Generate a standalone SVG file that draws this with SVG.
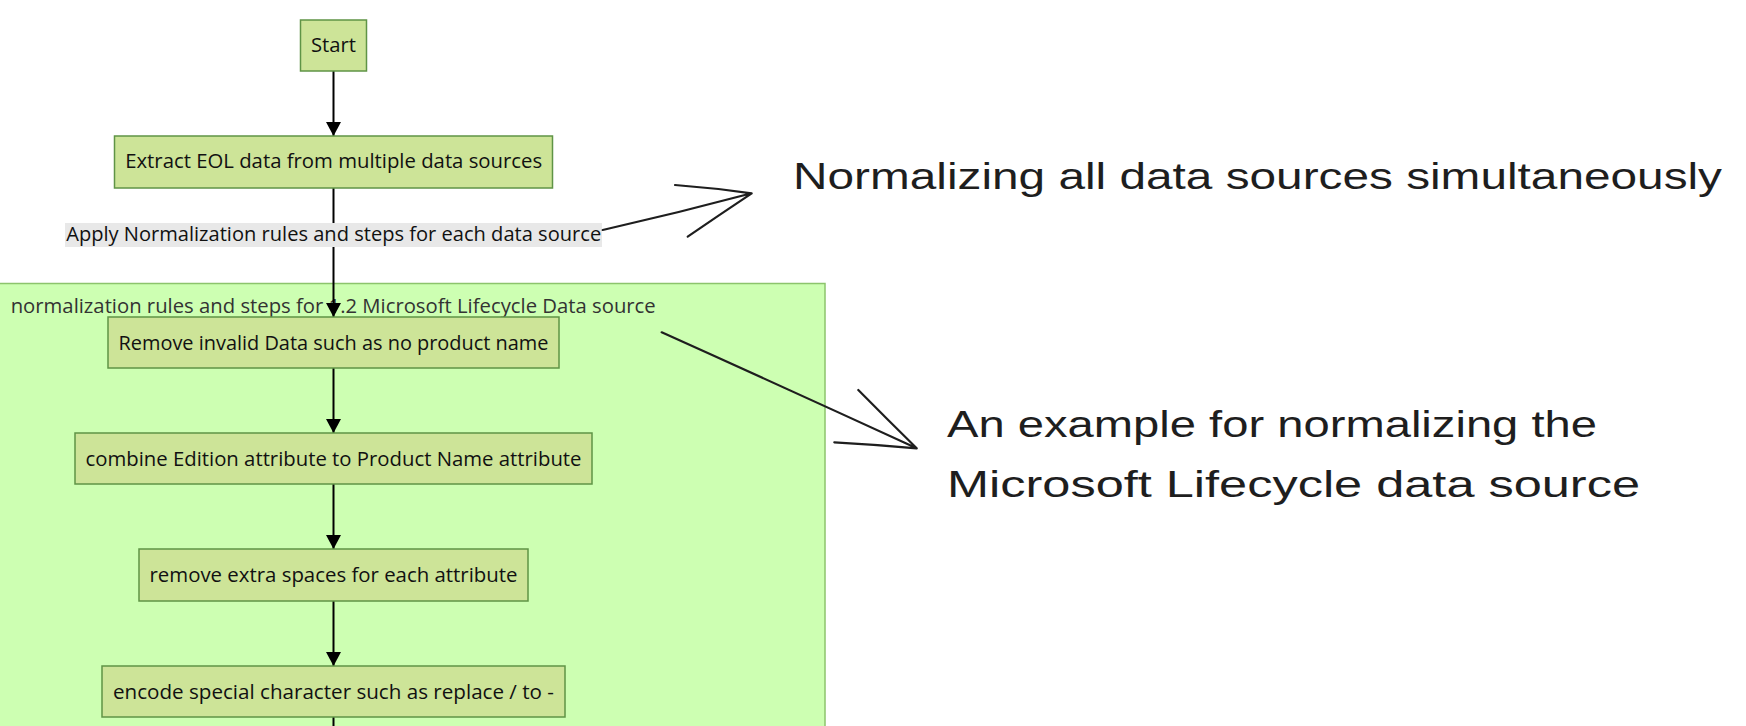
<svg xmlns="http://www.w3.org/2000/svg" width="1746" height="726" viewBox="0 0 1746 726">
<style>
.node rect{fill:#cde498;stroke:#5f9446;stroke-width:1.5}
.ntext{font-family:"Open Sans","Noto Sans",sans-serif;font-size:20px;fill:#111111;text-anchor:middle}
.cluster rect{fill:#cdffb2;stroke:#8cc46c;stroke-width:1.5}
.ctitle{font-family:"Open Sans","Noto Sans",sans-serif;font-size:20px;fill:#333333}
.edge{stroke:#000;stroke-width:2;fill:none}
.lbl-bg{fill:#e8e8e8}
.ann{stroke:#1e1e1e;stroke-width:2.2;fill:none;stroke-linecap:round;stroke-linejoin:round}
.atext{font-family:"Liberation Sans","Open Sans",sans-serif;fill:#1e1e1e}
</style>
<defs>
<marker id="arrow" viewBox="0 0 14 15" refX="14" refY="7.5" markerWidth="14" markerHeight="15" markerUnits="userSpaceOnUse" orient="auto">
<path d="M0,0 L14,7.5 L0,15 z" fill="#000"/>
</marker>
</defs>
<rect x="0" y="0" width="1746" height="726" fill="#ffffff"/>

<g id="cluster-ms" class="cluster">
<rect x="-1" y="283.5" width="826" height="460"/>
<text class="ctitle" x="10.7" y="313.3" textLength="645" lengthAdjust="spacingAndGlyphs">normalization rules and steps for 1.2 Microsoft Lifecycle Data source</text>
</g>

<g id="connectors">
<line class="edge" x1="333.5" y1="71" x2="333.5" y2="136" marker-end="url(#arrow)"/>
<line class="edge" x1="333.5" y1="188" x2="333.5" y2="317" marker-end="url(#arrow)"/>
<line class="edge" x1="333.5" y1="368" x2="333.5" y2="433" marker-end="url(#arrow)"/>
<line class="edge" x1="333.5" y1="484" x2="333.5" y2="549" marker-end="url(#arrow)"/>
<line class="edge" x1="333.5" y1="601" x2="333.5" y2="666" marker-end="url(#arrow)"/>
<line class="edge" x1="333.5" y1="717" x2="333.5" y2="730"/>
<g id="edge-label">
<rect class="lbl-bg" x="65" y="223" width="537" height="24"/>
<text class="ntext" x="333.7" y="241" textLength="535" lengthAdjust="spacingAndGlyphs">Apply Normalization rules and steps for each data source</text>
</g>
</g>

<g id="start" class="node">
<rect x="300.5" y="20" width="66" height="51"/>
<text class="ntext" x="333.5" y="51.7" textLength="45" lengthAdjust="spacingAndGlyphs">Start</text>
</g>
<g id="extract" class="node">
<rect x="114.5" y="136" width="438" height="52"/>
<text class="ntext" x="333.7" y="168" textLength="417" lengthAdjust="spacingAndGlyphs">Extract EOL data from multiple data sources</text>
</g>
<g id="remove-invalid" class="node">
<rect x="108" y="317" width="451" height="51"/>
<text class="ntext" x="333.5" y="350" textLength="430" lengthAdjust="spacingAndGlyphs">Remove invalid Data such as no product name</text>
</g>
<g id="combine" class="node">
<rect x="75" y="433" width="517" height="51"/>
<text class="ntext" x="333.5" y="465.5" textLength="496" lengthAdjust="spacingAndGlyphs">combine Edition attribute to Product Name attribute</text>
</g>
<g id="remove-spaces" class="node">
<rect x="139" y="549" width="389" height="52"/>
<text class="ntext" x="333.5" y="581.7" textLength="368" lengthAdjust="spacingAndGlyphs">remove extra spaces for each attribute</text>
</g>
<g id="encode" class="node">
<rect x="102" y="666" width="463" height="51"/>
<text class="ntext" x="333.5" y="698.5" textLength="441" lengthAdjust="spacingAndGlyphs">encode special character such as replace / to -</text>
</g>

<g id="annotations">
<path class="ann" d="M602.7,230 Q678,213 751.7,193.3 M675,185 Q714,188 751.7,193.3 M687.7,236.7 Q719,215 751.7,193.3"/>
<path class="ann" d="M661.7,332.3 Q790,390 916.7,448.3 M858.3,390 Q888,420 916.7,448.3 M834.3,442.3 Q875,444.5 916.7,448.3"/>
<text class="atext" x="793" y="188.5" font-size="36" textLength="929" lengthAdjust="spacingAndGlyphs">Normalizing all data sources simultaneously</text>
<text class="atext" x="947" y="437" font-size="37" textLength="650" lengthAdjust="spacingAndGlyphs">An example for normalizing the</text>
<text class="atext" x="947" y="497" font-size="37" textLength="693" lengthAdjust="spacingAndGlyphs">Microsoft Lifecycle data source</text>
</g>
</svg>
